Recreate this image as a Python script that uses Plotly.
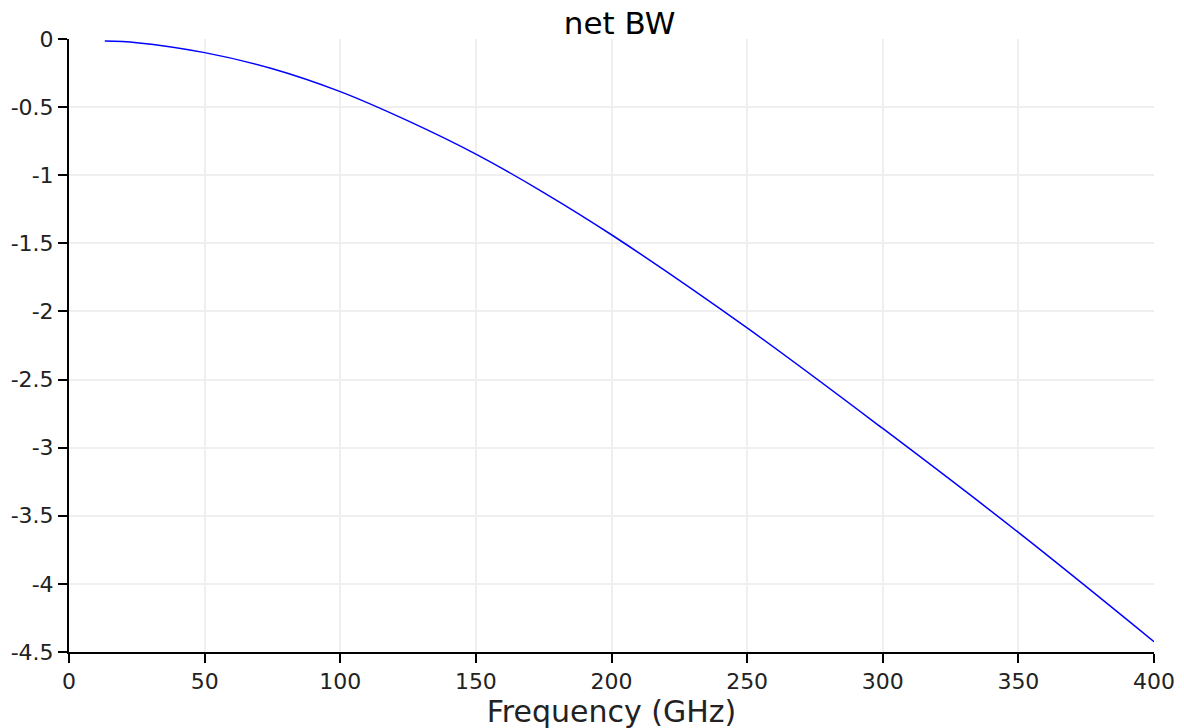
import plotly.graph_objects as go

# Data
freq_ghz = [13.2, 25, 50, 75, 100, 125, 150, 175, 200, 250, 300, 350, 400]
net_bw = [-0.015, -0.027, -0.10, -0.218, -0.386, -0.601, -0.845, -1.127,
          -1.437, -2.121, -2.859, -3.622, -4.424]

x_ticks = [0, 50, 100, 150, 200, 250, 300, 350, 400]
y_ticks = [0, -0.5, -1, -1.5, -2, -2.5, -3, -3.5, -4, -4.5]

fig = go.Figure()
fig.add_trace(go.Scatter(
    x=freq_ghz, y=net_bw, mode="lines",
    line=dict(color="#0000ff", width=1.5, shape="spline"),
    showlegend=False,
))

tick_font = dict(family="DejaVu Sans", size=22, color="#222222")

fig.update_layout(
    width=1184, height=728,
    margin=dict(l=61, r=38, t=31, b=84),
    paper_bgcolor="white", plot_bgcolor="white",
    title=dict(text="net BW", x=0.5165, xanchor="center", y=0.979, yanchor="middle",
               font=dict(family="DejaVu Sans", size=31, color="black")),
    xaxis=dict(
        range=[0, 400], tickmode="array", tickvals=x_ticks,
        ticktext=[str(v) for v in x_ticks],
        showline=True, linecolor="black", linewidth=2,
        ticks="outside", ticklen=9, tickwidth=2, tickcolor="black",
        showgrid=True, gridcolor="#efefef", gridwidth=1.5, zeroline=False,
        tickfont=tick_font, automargin=False,
        title=dict(text="Frequency (GHz)", standoff=0,
                   font=dict(family="DejaVu Sans", size=30, color="#222222")),
    ),
    yaxis=dict(
        range=[-4.5, 0], tickmode="array", tickvals=y_ticks,
        ticktext=[("%g" % v) for v in y_ticks],
        showline=True, linecolor="black", linewidth=2,
        ticks="outside", ticklen=9, tickwidth=2, tickcolor="black",
        showgrid=True, gridcolor="#efefef", gridwidth=1.5, zeroline=False,
        tickfont=tick_font, automargin=False,
    ),
)

fig.write_html("out.html")
